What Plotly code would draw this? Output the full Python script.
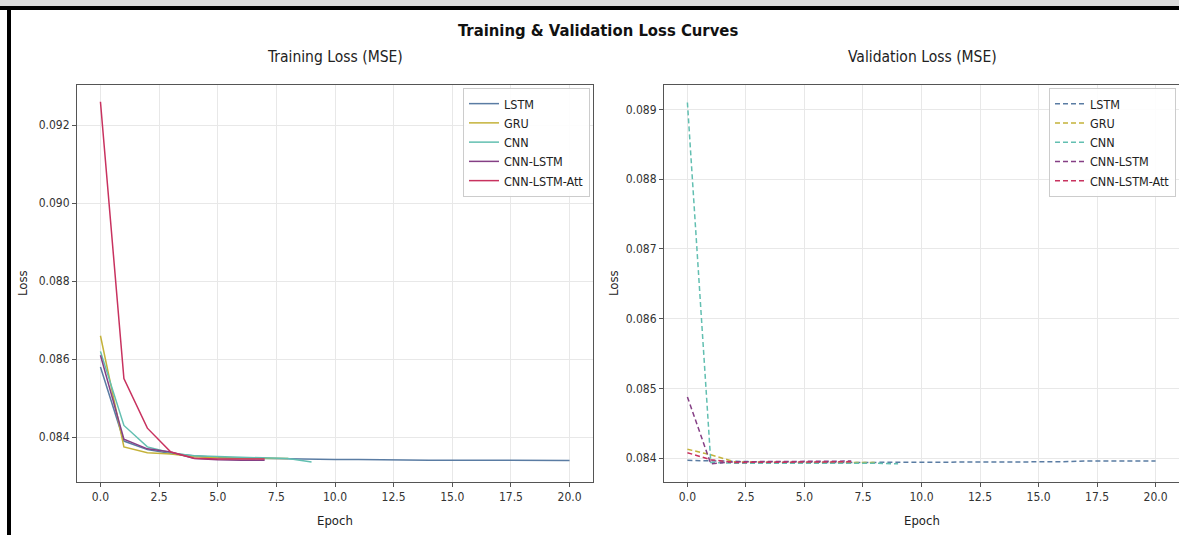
import plotly.graph_objects as go

W, H = 1179, 535

models = ["LSTM", "GRU", "CNN", "CNN-LSTM", "CNN-LSTM-Att"]
colors = ["#5a7ca3", "#c4b23a", "#62bfb1", "#853f85", "#c8325f"]

train_lstm = [0.0858, 0.0839, 0.08368, 0.08358, 0.08352, 0.08348, 0.08346, 0.08345, 0.08344, 0.08344,
              0.08343, 0.08343, 0.08342, 0.08342, 0.08341, 0.08341, 0.08341, 0.08340, 0.08340, 0.08340, 0.08340]
train_gru = [0.0866, 0.08375, 0.0836, 0.08357, 0.0835, 0.08347, 0.08346, 0.08345, 0.08345]
train_cnn = [0.0862, 0.0843, 0.08375, 0.0836, 0.08352, 0.0835, 0.08348, 0.08346, 0.08345, 0.08336]
train_cnnlstm = [0.0861, 0.08395, 0.0837, 0.08362, 0.08345, 0.08342, 0.08341, 0.08341]
train_att = [0.0926, 0.0855, 0.08423, 0.08362, 0.08346, 0.08344, 0.08344, 0.08344]

val_lstm = [0.08397, 0.08396, 0.08395, 0.08395, 0.08395, 0.08394, 0.08394, 0.08394, 0.08394, 0.08394,
            0.08394, 0.08394, 0.08394, 0.08395, 0.08395, 0.08395, 0.08395, 0.08396, 0.08396, 0.08396, 0.08396]
val_gru = [0.08413, 0.08405, 0.08395, 0.08394, 0.08394, 0.08394, 0.08394, 0.08394, 0.08394]
val_cnn = [0.0891, 0.08394, 0.08393, 0.08393, 0.08393, 0.08394, 0.08394, 0.08394, 0.08393, 0.08392]
val_cnnlstm = [0.08488, 0.08392, 0.08395, 0.08395, 0.08395, 0.08396, 0.08396, 0.08396]
val_att = [0.08408, 0.08398, 0.08394, 0.08394, 0.08395, 0.08395, 0.08395, 0.08395]

train_series = [train_lstm, train_gru, train_cnn, train_cnnlstm, train_att]
val_series = [val_lstm, val_gru, val_cnn, val_cnnlstm, val_att]

x_ticks = [0, 2.5, 5, 7.5, 10, 12.5, 15, 17.5, 20]
train_y_ticks = [0.084, 0.086, 0.088, 0.090, 0.092]
val_y_ticks = [0.084, 0.085, 0.086, 0.087, 0.088, 0.089]

FONT = "DejaVu Sans Condensed, Liberation Sans Narrow, DejaVu Sans"

fig = go.Figure()

for name, col, ys in zip(models, colors, train_series):
    fig.add_trace(go.Scatter(x=list(range(len(ys))), y=ys, mode="lines", name=name,
                             line=dict(color=col, width=1.5), xaxis="x", yaxis="y",
                             legend="legend"))
for name, col, ys in zip(models, colors, val_series):
    fig.add_trace(go.Scatter(x=list(range(len(ys))), y=ys, mode="lines", name=name,
                             line=dict(color=col, width=1.5, dash="5px,3px"), xaxis="x2", yaxis="y2",
                             legend="legend2"))

ydom = [(H - 482) / H, (H - 85) / H]
axis_common = dict(showline=True, linecolor="#555555", linewidth=1, mirror=True,
                   ticks="outside", ticklen=4, tickcolor="#555555",
                   showgrid=True, gridcolor="#e8e8e8", gridwidth=1, zeroline=False,
                   tickfont=dict(family=FONT, size=12, color="#333333"), automargin=False)

legend_common = dict(bgcolor="rgba(255,255,255,0.9)", bordercolor="#cccccc", borderwidth=1,
                     font=dict(family=FONT, size=12.5, color="#222222"))

fig.update_layout(
    width=W, height=H,
    margin=dict(l=0, r=0, t=0, b=0),
    paper_bgcolor="white", plot_bgcolor="white",
    font=dict(family=FONT, color="#222222"),
    xaxis=dict(domain=[77 / W, 593 / W], range=[-1, 21], tickvals=x_ticks, tickformat=".1f",
               anchor="y", **axis_common),
    yaxis=dict(domain=ydom, range=[0.08285, 0.09303], tickvals=train_y_ticks, tickformat=".3f",
               anchor="x", **axis_common),
    xaxis2=dict(domain=[664 / W, 1.0], range=[-1, 21], tickvals=x_ticks, tickformat=".1f",
                anchor="y2", **axis_common),
    yaxis2=dict(domain=ydom, range=[0.08366, 0.08935], tickvals=val_y_ticks, tickformat=".3f",
                anchor="x2", **axis_common),
    legend=dict(x=590 / W, y=1 - 88 / H, xanchor="right", yanchor="top", **legend_common),
    legend2=dict(x=1176 / W, y=1 - 88 / H, xanchor="right", yanchor="top", **legend_common),
    showlegend=True,
)

annotations = [
    dict(text="<b>Training & Validation Loss Curves</b>", x=598 / W, y=1 - 30 / H,
         font=dict(size=16.5, family=FONT, color="#111111")),
    dict(text="Training Loss (MSE)", x=335 / W, y=1 - 57 / H, font=dict(size=15.5, family=FONT)),
    dict(text="Validation Loss (MSE)", x=922 / W, y=1 - 57 / H, font=dict(size=15.5, family=FONT)),
    dict(text="Loss", x=22 / W, y=1 - 283 / H, textangle=-90, font=dict(size=13, family=FONT)),
    dict(text="Loss", x=613 / W, y=1 - 283 / H, textangle=-90, font=dict(size=13, family=FONT)),
    dict(text="Epoch", x=335 / W, y=1 - 520 / H, font=dict(size=13, family=FONT)),
    dict(text="Epoch", x=922 / W, y=1 - 520 / H, font=dict(size=13, family=FONT)),
]
for a in annotations:
    a.update(xref="paper", yref="paper", showarrow=False, xanchor="center", yanchor="middle")
fig.update_layout(annotations=annotations)

# screenshot frame: light strip on top, black border top and left
fig.update_layout(shapes=[
    dict(type="rect", xref="paper", yref="paper", x0=0, x1=1, y0=1 - 6 / H, y1=1,
         fillcolor="#dcdcdc", line=dict(width=0), layer="above"),
    dict(type="rect", xref="paper", yref="paper", x0=0, x1=1, y0=1 - 10 / H, y1=1 - 6 / H,
         fillcolor="black", line=dict(width=0), layer="above"),
    dict(type="rect", xref="paper", yref="paper", x0=7 / W, x1=11 / W, y0=0, y1=1 - 6 / H,
         fillcolor="black", line=dict(width=0), layer="above"),
])

fig.write_html("out.html")
